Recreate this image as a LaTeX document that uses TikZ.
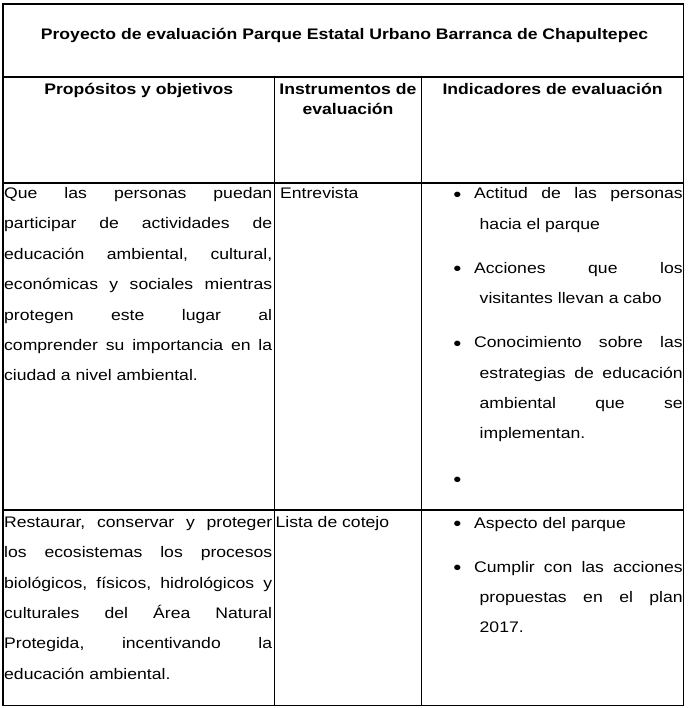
\documentclass[tikz,border=0pt]{standalone}
\usepackage{fontspec}
\setmainfont[FakeStretch=1.15]{Liberation Sans}
\usetikzlibrary{positioning}
\frenchspacing
% a block of lines; one justified line; one last (ragged) line
\newcommand{\para}[2]{\vtop{\hsize=#1\relax#2}}
\newcommand{\jl}[2][0pt]{\hbox to\hsize{\hskip#1\spaceskip=.28em plus 1fil\relax#2}}
\newcommand{\lastln}[2][0pt]{\hbox to\hsize{\hskip#1\relax#2\hfil}}

\begin{document}
\begin{tikzpicture}[x=1pt, y=-1pt,
    grid/.style={black, line width=1.1pt},
    cell/.style={inner sep=0pt, anchor=base west, font=\fontsize{15.3}{30.4}\selectfont},
    head/.style={inner sep=0pt, anchor=base, font=\bfseries\fontsize{15.3}{19.5}\selectfont},
    bul/.style={inner sep=0pt, anchor=base, yshift=-2.3pt, font=\fontsize{20}{24}\selectfont}]
    \useasboundingbox (0,0) rectangle (687,708);

    % Table frame
    \draw[grid] (3,4) rectangle (683.5,705.5);
    \draw[grid] (3,77) -- (683.5,77);
    \draw[grid] (3,183) -- (683.5,183);
    \draw[grid] (3,510) -- (683.5,510);
    \draw[grid] (274.5,77) -- (274.5,705.5);
    \draw[grid] (421.5,77) -- (421.5,705.5);

    % Title and headings
    \node[head] (title) at (344.5,39.3) {Proyecto de evaluación Parque Estatal Urbano Barranca de Chapultepec};
    \node[head] (hobj) at (138.75,95) {Propósitos y objetivos};
    \node[head, text width=145pt, align=center] (hins) at (348,95) {Instrumentos de\\evaluación};
    \node[head] (hind) at (552.5,95) {Indicadores de evaluación};

    % First row
    \node[cell] (obj1) at (4,198.5) {\para{268pt}{%
        \jl{Que las personas puedan}\jl{participar de actividades de}%
        \jl{educación ambiental, cultural,}\jl{económicas y sociales mientras}%
        \jl{protegen este lugar al}\jl{comprender su importancia en la}%
        \lastln{ciudad a nivel ambiental.}}};
    \node[cell] (ins1) at (280,198.5) {Entrevista};
    \foreach \y/\n in {199/1, 273.5/2, 347.7/3, 484/4}
        \node[bul] (b\n) at (457.5,\y) {•};
    \node[cell] (ind1) at (474,199) {\para{208.5pt}{%
        \jl{Actitud de las personas}\lastln[5.5pt]{hacia el parque}}};
    \node[cell] (ind2) at (474,273.5) {\para{208.5pt}{%
        \jl{Acciones que los}\lastln[5.5pt]{visitantes llevan a cabo}}};
    \node[cell] (ind3) at (474,347.7) {\para{208.5pt}{%
        \jl{Conocimiento sobre las}\jl[5.5pt]{estrategias de educación}%
        \jl[5.5pt]{ambiental que se}\lastln[5.5pt]{implementan.}}};

    % Second row
    \node[cell] (obj2) at (4,527.3) {\para{268pt}{%
        \jl{Restaurar, conservar y proteger}\jl{los ecosistemas los procesos}%
        \jl{biológicos, físicos, hidrológicos y}\jl{culturales del Área Natural}%
        \jl{Protegida, incentivando la}\lastln{educación ambiental.}}};
    \node[cell] (ins2) at (275.5,527.3) {Lista de cotejo};
    \foreach \y/\n in {528/5, 572/6}
        \node[bul] (b\n) at (457.5,\y) {•};
    \node[cell] (ind4) at (474,528) {Aspecto del parque};
    \node[cell] (ind5) at (474,572) {\para{208.5pt}{%
        \jl{Cumplir con las acciones}\jl[5.5pt]{propuestas en el plan}%
        \lastln[5.5pt]{2017.}}};
\end{tikzpicture}
\end{document}
